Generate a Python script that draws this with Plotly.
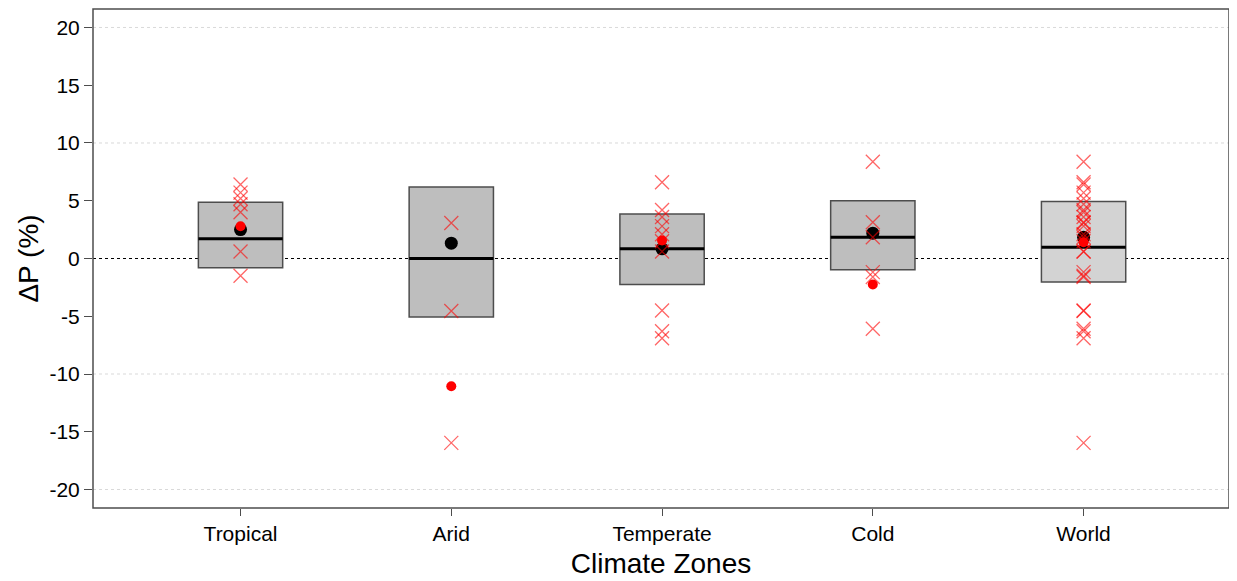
import plotly.graph_objects as go

categories = ["Tropical", "Arid", "Temperate", "Cold", "World"]
box_low = [-0.8, -5.07, -2.25, -0.98, -2.04]
box_high = [4.87, 6.2, 3.86, 5.01, 4.93]
medians = [1.7, 0.0, 0.84, 1.84, 0.98]
black_means = [2.5, 1.33, 0.84, 2.19, 1.84]
red_means = [2.79, -11.06, 1.56, -2.25, 1.41]

tropical_x = [6.4, 5.7, 5.2, 4.7, 4.0, 0.6, -1.5]
arid_x = [3.08, -4.55, -15.96]
temperate_x = [6.6, 4.2, 3.6, 2.8, 2.1, 1.5, 0.6, -4.5, -6.3, -6.9]
cold_x = [8.38, 3.14, 1.84, -1.18, -1.6, -6.08]
world_x = tropical_x + arid_x + temperate_x + cold_x
member_values = [tropical_x, arid_x, temperate_x, cold_x, world_x]

y_ticks = [-20, -15, -10, -5, 0, 5, 10, 15, 20]
y_tick_labels = ["-20", "-15", "-10", "-5", "0", "5", "10", "15", "20"]

box_fill = ["#bebebe", "#bebebe", "#bebebe", "#bebebe", "#d3d3d3"]

pos = list(range(1, len(categories) + 1))
half_w = 0.2

fig = go.Figure()

fig.add_trace(go.Bar(
    x=pos, y=[h - l for h, l in zip(box_high, box_low)], base=box_low,
    width=2 * half_w, marker=dict(color=box_fill, line=dict(color="#4d4d4d", width=1.5)),
    showlegend=False, hoverinfo="skip"))

mx, my = [], []
for p, m in zip(pos, medians):
    mx += [p - half_w, p + half_w, None]
    my += [m, m, None]
fig.add_trace(go.Scatter(x=mx, y=my, mode="lines", line=dict(color="black", width=3),
                         showlegend=False, hoverinfo="skip"))

fig.add_trace(go.Scatter(x=pos, y=black_means, mode="markers",
                         marker=dict(color="black", size=13), showlegend=False))
fig.add_trace(go.Scatter(x=pos, y=red_means, mode="markers",
                         marker=dict(color="red", size=10), showlegend=False))

xs, ys = [], []
for p, vals in zip(pos, member_values):
    xs += [p] * len(vals)
    ys += vals
fig.add_trace(go.Scatter(x=xs, y=ys, mode="markers",
                         marker=dict(symbol="x-thin-open", size=14, color="rgba(255,0,0,0.6)",
                                     line=dict(color="rgba(255,0,0,0.6)", width=1.3)),
                         showlegend=False))

for g in [-20, -10, 10, 20]:
    fig.add_shape(type="line", xref="paper", x0=0, x1=1, yref="y", y0=g, y1=g,
                  line=dict(color="#d9d9d9", width=1, dash="dot"), layer="below")
fig.add_shape(type="line", xref="paper", x0=0, x1=1, yref="y", y0=0, y1=0,
              line=dict(color="black", width=1, dash="dot"), layer="below")
# plot frame
fig.add_shape(type="rect", xref="paper", yref="paper", x0=0, x1=1, y0=0, y1=1,
              line=dict(color="#4d4d4d", width=1.5), fillcolor="rgba(0,0,0,0)", layer="above")

font_family = "Arial, Liberation Sans, sans-serif"
fig.update_layout(
    width=1237, height=581,
    margin=dict(l=85, r=16, t=1, b=81),
    plot_bgcolor="white", paper_bgcolor="white",
    font=dict(family=font_family, color="black"),
    xaxis=dict(range=[0.3, 5.69], tickvals=pos, ticktext=categories, automargin=False,
               showgrid=False, zeroline=False, showline=False,
               ticks="outside", ticklen=7,
               tickcolor="#4d4d4d", tickfont=dict(size=21),
               title=dict(text="Climate Zones", font=dict(size=28), standoff=9)),
    yaxis=dict(range=[-21.6, 21.6], tickvals=y_ticks, ticktext=y_tick_labels, automargin=False,
               showgrid=False, zeroline=False, showline=False,
               ticks="outside", ticklen=8,
               tickcolor="#4d4d4d", tickfont=dict(size=21),
               title=dict(text="ΔP (%)", font=dict(size=28), standoff=2)),
)

fig.write_html("out.html")
